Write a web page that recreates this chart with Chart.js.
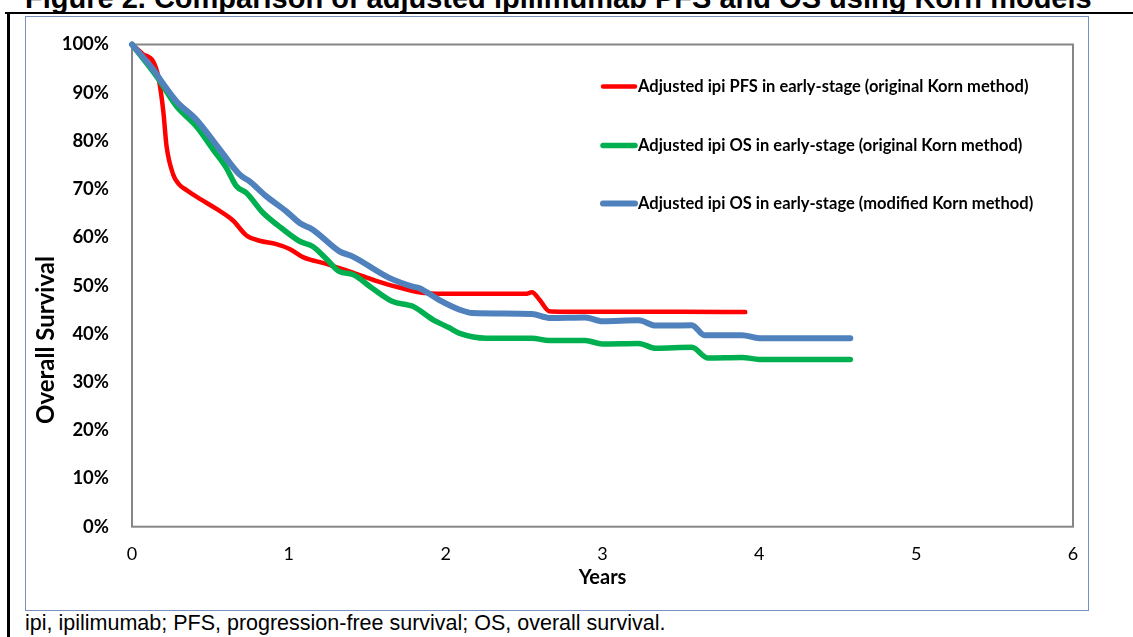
<!DOCTYPE html>
<html>
<head>
<meta charset="utf-8">
<script src="https://cdn.jsdelivr.net/npm/chart.js@4"></script>
<style>
  html, body { margin: 0; padding: 0; background: #ffffff; }
  body { width: 1133px; height: 637px; position: relative; overflow: hidden; }
  #title { position: absolute; left: 25px; top: -18px; font: bold 29px "Liberation Sans", Arial, sans-serif; line-height: 33px; color: #000; white-space: nowrap; }
  #frameTop { position: absolute; left: 5px; top: 12px; width: 1128px; height: 2px; background: #000; }
  #frameLeft { position: absolute; left: 7px; top: 12px; width: 3px; height: 625px; background: #000; }
  #chartBox { position: absolute; left: 25px; top: 16px; width: 1064px; height: 595px; border: 1px solid #7392bd; box-sizing: border-box; background: #fff; }
  #chartBox canvas { display: block; }
  #foot { position: absolute; left: 25px; top: 611px; font: 21.5px "Liberation Sans", Arial, sans-serif; line-height: 25px; color: #000; white-space: nowrap; }
</style>
</head>
<body>
<div id="title">Figure 2. Comparison of adjusted ipilimumab PFS and OS using Korn models</div>
<div id="frameTop"></div>
<div id="frameLeft"></div>
<div id="chartBox"><canvas id="c" width="1062" height="593"></canvas></div>
<div id="foot">ipi, ipilimumab; PFS, progression-free survival; OS, overall survival.</div>
<script>
// ---- data (years, % surviving) ----
const pfsOrigYears = [0, 0.07, 0.136, 0.17, 0.2, 0.22, 0.263, 0.3, 0.348, 0.433, 0.539, 0.644, 0.73, 0.814, 0.92, 1.005, 1.09, 1.24, 1.408, 1.556, 1.705, 1.83, 2.0, 2.2, 2.4, 2.51, 2.55, 2.6, 2.66, 2.75, 3.0, 3.5, 3.91];
const pfsOrigValues = [100, 98, 96.4, 93, 86, 79, 73, 71, 69.8, 68, 65.9, 63.5, 60.4, 59.3, 58.6, 57.6, 55.9, 54.5, 52.7, 51, 49.6, 48.6, 48.3, 48.3, 48.3, 48.3, 48.6, 47, 44.7, 44.6, 44.6, 44.6, 44.5];

const osOrigYears = [0, 0.157, 0.284, 0.411, 0.517, 0.6, 0.666, 0.73, 0.835, 0.95, 1.069, 1.153, 1.24, 1.323, 1.408, 1.53, 1.662, 1.79, 1.92, 2.02, 2.09, 2.26, 2.55, 2.66, 2.89, 3.0, 3.23, 3.34, 3.57, 3.67, 3.89, 4.0, 4.58];
const osOrigValues = [100, 93.4, 87.2, 83, 78.2, 74.5, 70.6, 69.2, 65.1, 62, 59.2, 58.1, 55.5, 52.9, 52.3, 49.5, 46.7, 45.7, 42.9, 41.3, 40.1, 39.1, 39.1, 38.6, 38.6, 37.9, 38, 37, 37.2, 35, 35.1, 34.7, 34.7];

const osModYears = [0, 0.136, 0.178, 0.284, 0.411, 0.56, 0.687, 0.75, 0.857, 0.984, 1.069, 1.153, 1.323, 1.408, 1.64, 1.79, 1.83, 1.96, 2.09, 2.17, 2.55, 2.66, 2.89, 3.0, 3.23, 3.34, 3.57, 3.65, 3.89, 4.0, 4.58];
const osModValues = [100, 94.8, 92.8, 88.2, 84.4, 78.2, 73, 71.6, 68.5, 65.4, 63, 61.6, 57.1, 56, 51.6, 49.8, 49.5, 47, 45, 44.3, 44.1, 43.3, 43.4, 42.6, 42.8, 41.7, 41.8, 39.7, 39.7, 39.1, 39.1];

const seriesLabels = [
  "Adjusted ipi PFS in early-stage (original Korn method)",
  "Adjusted ipi OS in early-stage (original Korn method)",
  "Adjusted ipi OS in early-stage (modified Korn method)"
];
const xTickValues = [0, 1, 2, 3, 4, 5, 6];
const yTickValues = [0, 10, 20, 30, 40, 50, 60, 70, 80, 90, 100];
const xAxisTitle = "Years";
const yAxisTitle = "Overall Survival";

function pts(xs, ys) { return xs.map((x, i) => ({ x: x, y: ys[i] })); }

const FONT = "Lato, 'Open Sans', sans-serif";

const overlayPlugin = {
  id: 'overlay',
  beforeDatasetsDraw(chart) {
    const { ctx, chartArea: a } = chart;
    ctx.save();
    ctx.strokeStyle = '#868686';
    ctx.lineWidth = 2;
    ctx.strokeRect(a.left, a.top, a.right - a.left, a.bottom - a.top);
    ctx.restore();
  },
  afterDraw(chart) {
    const { ctx } = chart;
    ctx.save();
    ctx.translate(20, 323);
    ctx.rotate(-Math.PI / 2);
    ctx.font = "bold 24px " + FONT;
    ctx.fillStyle = '#000';
    ctx.textAlign = 'center';
    ctx.textBaseline = 'middle';
    ctx.fillText(yAxisTitle, 0, 0);
    ctx.restore();
    ctx.save();
    const ys = [69.5, 128.5, 186.5];
    chart.data.datasets.forEach((ds, i) => {
      const y = ys[i];
      ctx.strokeStyle = ds.borderColor;
      ctx.lineWidth = ds.borderWidth;
      ctx.lineCap = 'round';
      ctx.beginPath();
      ctx.moveTo(577, y);
      ctx.lineTo(609, y);
      ctx.stroke();
      ctx.font = "bold 16.5px " + FONT;
      ctx.fillStyle = '#000';
      ctx.textAlign = 'left';
      ctx.textBaseline = 'middle';
      ctx.fillText(ds.label, 612, y);
    });
    ctx.restore();
  }
};

new Chart(document.getElementById('c'), {
  type: 'line',
  data: {
    datasets: [
      { label: seriesLabels[0], data: pts(pfsOrigYears, pfsOrigValues), borderColor: '#ff0000', borderWidth: 4.5, order: 3 },
      { label: seriesLabels[1], data: pts(osOrigYears, osOrigValues), borderColor: '#00b050', borderWidth: 5.5, order: 2 },
      { label: seriesLabels[2], data: pts(osModYears, osModValues), borderColor: '#4f81bd', borderWidth: 6, order: 1 }
    ]
  },
  options: {
    responsive: false,
    animation: false,
    elements: {
      point: { radius: 0, hoverRadius: 0 },
      line: { cubicInterpolationMode: 'monotone', borderCapStyle: 'round', borderJoinStyle: 'round', fill: false }
    },
    datasets: { line: { clip: 8 } },
    layout: { padding: { left: 0, top: 27.5, right: 15, bottom: 0 } },
    plugins: { legend: { display: false }, tooltip: { enabled: false } },
    scales: {
      x: {
        type: 'linear',
        min: 0, max: 6,
        afterBuildTicks(scale) { scale.ticks = xTickValues.map(v => ({ value: v })); },
        afterFit(scale) { scale.height = 83.3; scale.paddingLeft = 0; scale.paddingRight = 0; },
        grid: { display: false, drawTicks: false },
        border: { display: false },
        ticks: { padding: 17, color: '#000', font: { family: FONT, size: 18 }, callback: v => String(v) },
        title: { display: true, text: xAxisTitle, color: '#000', font: { family: FONT, size: 20, weight: 'bold' }, padding: { top: 0, bottom: 20 } }
      },
      y: {
        type: 'linear',
        min: 0, max: 100,
        afterBuildTicks(scale) { scale.ticks = yTickValues.map(v => ({ value: v })); },
        afterFit(scale) { scale.width = 106; scale.paddingTop = 0; scale.paddingBottom = 0; },
        grid: { display: false, drawTicks: false },
        border: { display: false },
        ticks: { padding: 23, color: '#000', font: { family: FONT, size: 18.5, weight: 'bold' }, callback: v => v + '%' }
      }
    }
  },
  plugins: [overlayPlugin]
});
</script>
</body>
</html>
